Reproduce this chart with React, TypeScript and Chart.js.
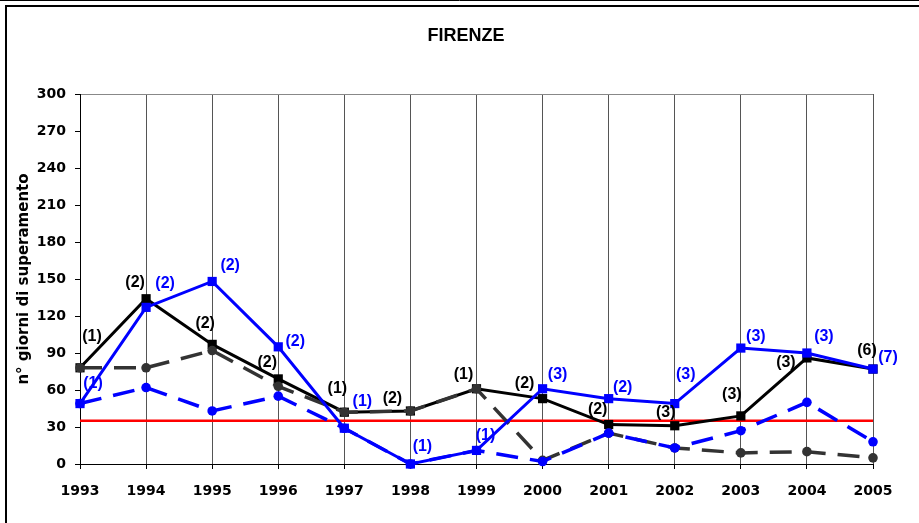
import React, { useEffect, useRef } from "react";
import { Chart, registerables } from "chart.js";

Chart.register(...registerables);

const years = ["1993", "1994", "1995", "1996", "1997", "1998", "1999", "2000", "2001", "2002", "2003", "2004", "2005"];

// n° giorni di superamento per stazione
const seriesBlackSolid = [78, 134, 97, 69, 42, 43, 61, 53, 32, 31, 39, 86, 77];
const seriesBlueSolid = [49, 127, 148, 95, 29, 0, 11, 61, 53, 49, 94, 90, 77];
const seriesGreyDashed = [78, 78, 92, 63, 42, 43, 61, 3, 25, 13, 9, 10, 5];
const seriesBlueDashed = [49, 62, 43, 55, 29, 0, 11, 2, 25, 13, 27, 50, 18];
const limitValue = 35;

const blackLabels = ["(1)", "(2)", "(2)", "(2)", "(1)", "(2)", "(1)", "(2)", "(2)", "(3)", "(3)", "(3)", "(6)"];
const blueLabels = ["(1)", "(2)", "(2)", "(2)", "(1)", "(1)", "(1)", "(3)", "(2)", "(3)", "(3)", "(3)", "(7)"];

// label placement relative to the point (px)
const blackLabelNudge: [number, number][] = [
  [12, -31], [-11, -16], [-7, -21], [-11, -16], [-7, -24], [-18, -12], [-13, -14],
  [-18, -15], [-11, -15], [-9, -13], [-9, -21], [-21, 5], [-6, -18],
];
const blueLabelNudge: [number, number][] = [
  [13, -20], [19, -24], [18, -16], [17, -5], [18, -27], [12, -17], [9, -15],
  [15, -14], [14, -11], [11, -29], [15, -11], [17, -16], [15, -11],
];

const FONT = "'DejaVu Sans', 'Liberation Sans', Arial, sans-serif";
const ARIAL = "'Liberation Sans', Arial, sans-serif";

export default function App() {
  const ref = useRef<HTMLCanvasElement | null>(null);

  useEffect(() => {
    document.body.style.margin = "0";
    const canvas = ref.current;
    if (!canvas) return;

    const framePlugin = {
      id: "frame",
      beforeDraw(chart: any) {
        const ctx = chart.ctx;
        ctx.save();
        ctx.fillStyle = "#fff";
        ctx.fillRect(0, 0, chart.width, chart.height);
        ctx.strokeStyle = "#000";
        ctx.lineWidth = 1;
        ctx.beginPath();
        ctx.moveTo(0, 0.5);
        ctx.lineTo(chart.width, 0.5);
        ctx.stroke();
        ctx.lineWidth = 2;
        ctx.beginPath();
        ctx.moveTo(6, chart.height);
        ctx.lineTo(6, 6);
        ctx.lineTo(chart.width, 6);
        ctx.stroke();
        ctx.fillStyle = "#000";
        ctx.font = `bold 18px ${ARIAL}`;
        ctx.textAlign = "center";
        ctx.textBaseline = "middle";
        ctx.fillText("FIRENZE", 466, 36);
        ctx.restore();
      },
    };

    const labelPlugin = {
      id: "pointLabels",
      afterDatasetsDraw(chart: any) {
        const ctx = chart.ctx;
        ctx.save();
        ctx.font = `bold 16px ${ARIAL}`;
        ctx.textAlign = "center";
        ctx.textBaseline = "middle";
        const draw = (dsIndex: number, labels: string[], nudge: [number, number][], color: string) => {
          const meta = chart.getDatasetMeta(dsIndex);
          ctx.fillStyle = color;
          meta.data.forEach((pt: any, i: number) => {
            const [dx, dy] = nudge[i];
            ctx.fillText(labels[i], pt.x + dx, pt.y + dy);
          });
        };
        draw(0, blackLabels, blackLabelNudge, "#000");
        draw(1, blueLabels, blueLabelNudge, "#0000ff");
        ctx.restore();
      },
    };

    const chart = new Chart(canvas, {
      type: "line",
      data: {
        labels: years,
        datasets: [
          {
            label: "Stazione 1",
            data: seriesBlackSolid,
            borderColor: "#000",
            backgroundColor: "#000",
            borderWidth: 3,
            pointStyle: "rect",
            pointRadius: 6.5,
            pointBorderWidth: 0,
            tension: 0,
            clip: false,
            order: 4,
          },
          {
            label: "Stazione 2",
            data: seriesBlueSolid,
            borderColor: "#0000ff",
            backgroundColor: "#0000ff",
            borderWidth: 3,
            pointStyle: "rect",
            pointRadius: 6.5,
            pointBorderWidth: 0,
            tension: 0,
            clip: false,
            order: 1,
          },
          {
            label: "Stazione 3",
            data: seriesGreyDashed,
            borderColor: "#333",
            backgroundColor: "#333",
            borderWidth: 3.5,
            borderDash: [22, 12],
            pointStyle: "circle",
            pointRadius: 4.8,
            pointBorderWidth: 0,
            tension: 0,
            clip: false,
            order: 3,
          },
          {
            label: "Stazione 4",
            data: seriesBlueDashed,
            borderColor: "#0000ff",
            backgroundColor: "#0000ff",
            borderWidth: 3.5,
            borderDash: [22, 12],
            pointStyle: "circle",
            pointRadius: 4.8,
            pointBorderWidth: 0,
            tension: 0,
            clip: false,
            order: 2,
          },
          {
            label: "Limite",
            data: years.map(() => limitValue),
            borderColor: "#ff0000",
            borderWidth: 2.5,
            pointRadius: 0,
            tension: 0,
            order: 6,
          },
        ],
      },
      options: {
        responsive: false,
        animation: false,
        events: [],
        layout: { padding: { left: 0, right: 46, top: 94, bottom: 0 } },
        plugins: {
          legend: { display: false },
          tooltip: { enabled: false },
          title: { display: false },
        },
        scales: {
          x: {
            type: "category",
            offset: false,
            afterFit(scale: any) {
              scale.height = 59;
            },
            grid: {
              offset: false,
              color: (c: any) => (c.index === 0 ? "rgba(0,0,0,0)" : "#555"),
              tickColor: "#000",
              tickLength: 5,
              lineWidth: 1,
            },
            border: { display: true, color: "#000", width: 1 },
            ticks: {
              color: "#000",
              font: { family: FONT, size: 14, weight: "bold" },
              padding: 14,
              maxRotation: 0,
              autoSkip: false,
            },
          },
          y: {
            min: 0,
            max: 300,
            afterFit(scale: any) {
              scale.width = 80;
            },
            grid: {
              color: (c: any) => (c.tick && c.tick.value === 300 ? "#888" : "rgba(0,0,0,0)"),
              tickColor: "#000",
              tickLength: 5,
              lineWidth: 1,
            },
            border: { display: true, color: "#000", width: 1 },
            ticks: {
              stepSize: 30,
              color: "#000",
              font: { family: FONT, size: 14, weight: "bold" },
              padding: 9,
            },
            title: {
              display: true,
              text: "n° giorni di superamento",
              color: "#000",
              font: { family: FONT, size: 15, weight: "bold" },
              padding: { top: 15, bottom: 0 },
            },
          },
        },
      },
      plugins: [framePlugin, labelPlugin],
    });

    return () => chart.destroy();
  }, []);

  return (
    <div style={{ width: 919, height: 523, position: "relative" }}>
      <canvas ref={ref} width={919} height={523} style={{ display: "block" }} />
    </div>
  );
}
